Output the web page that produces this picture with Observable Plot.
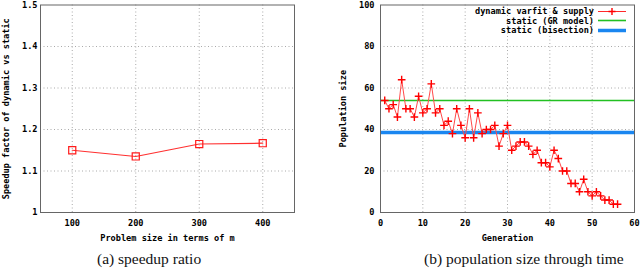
<!DOCTYPE html>
<html>
<head>
<meta charset="utf-8">
<script src="https://cdn.jsdelivr.net/npm/d3@7"></script>
<script src="https://cdn.jsdelivr.net/npm/@observablehq/plot@0.6"></script>
<style>
  html, body { margin: 0; padding: 0; background: #fff; }
  #wrap { position: relative; width: 640px; height: 268px; overflow: hidden; background: #fff; }
  .panel { position: absolute; top: 0; width: 320px; }
  .caption { position: absolute; top: 250px; font-family: "Liberation Serif", serif; font-size: 15.5px; white-space: nowrap; color: #111; }
  .legend { position: absolute; font-family: "DejaVu Sans Mono", monospace; font-weight: bold; font-size: 8.6px; color: #000; }
  .legend .row { position: absolute; right: 0; height: 9px; display: flex; align-items: center; white-space: nowrap; }
  .legend svg { margin-left: 4px; }
</style>
</head>
<body>
<div id="wrap">
  <div class="panel" id="left" style="left:0"></div>
  <div class="panel" id="right" style="left:320px"></div>
  <div class="caption" id="capA" style="left:97px">(a) speedup ratio</div>
  <div class="caption" id="capB" style="left:424px">(b) population size through time</div>
</div>
<script>
// ---- Panel (a) data ----
const problemSizes = [100, 200, 300, 400];
const speedup = [1.15, 1.135, 1.165, 1.167];
const speedupTicks = [1, 1.1, 1.2, 1.3, 1.4, 1.5];

// ---- Panel (b) data ----
const generations = [1,2,3,4,5,6,7,8,9,10,11,12,13,14,15,16,17,18,19,20,21,22,23,24,25,26,27,28,29,30,31,32,33,34,35,36,37,38,39,40,41,42,43,44,45,46,47,48,49,50,51,52,53,54,55,56];
const popDynamic = [54,50,52,46,64,50,50,46,56,48,50,62,48,50,42,44,38,50,42,36,50,36,48,38,40,40,42,32,38,42,30,32,34,34,32,28,30,24,24,22,30,26,20,20,14,14,10,16,10,8,10,8,6,6,4,4];
const popStaticGR = 54;
const popStaticBisection = 38.5;
const genTicks = [0, 10, 20, 30, 40, 50, 60];
const popTicks = [0, 20, 40, 60, 80, 100];
const legendLabels = ["dynamic varfit & supply", "static (GR model)", "static (bisection)"];
const legendColors = ["#ff2a2a", "#22c022", "#1a86f0"];

const font = {fontFamily: "DejaVu Sans Mono, monospace", fontSize: "8.6px", fontWeight: "bold", background: "#fff", color: "#000", overflow: "visible"};
const gridStyle = {stroke: "#aaa", strokeOpacity: 1, strokeDasharray: "1,2.5"};

const tableA = problemSizes.map((p, i) => ({size: p, speedup: speedup[i]}));
const tableB = generations.map((g, i) => ({gen: g, pop: popDynamic[i]}));

const plotA = Plot.plot({
  width: 320, height: 245,
  marginLeft: 40, marginRight: 26, marginTop: 4.5, marginBottom: 33,
  style: font,
  x: {domain: [50, 450]},
  y: {domain: [1, 1.5]},
  marks: [
    Plot.gridX(problemSizes, gridStyle),
    Plot.gridY(speedupTicks.slice(1, -1), gridStyle),
    Plot.frame({stroke: "#666"}),
    Plot.axisX(problemSizes, {tickSize: 0, tickPadding: 7, label: "Problem size in terms of m", labelAnchor: "center", labelArrow: "none", labelOffset: 28}),
    Plot.axisY(speedupTicks, {tickSize: 0, tickPadding: 3, tickFormat: d => d === 1 ? "1" : d.toFixed(1), label: "Speedup factor of dynamic vs static", labelAnchor: "center", labelArrow: "none", labelOffset: 38}),
    Plot.line(tableA, {x: "size", y: "speedup", stroke: "#ff3030", strokeWidth: 1.2}),
    Plot.dot(tableA, {x: "size", y: "speedup", symbol: "square", r: 4, stroke: "#ff1a1a", fill: "none", strokeWidth: 1.2})
  ]
});
document.getElementById("left").appendChild(plotA);

const plotB = Plot.plot({
  width: 320, height: 245,
  marginLeft: 60, marginRight: 6, marginTop: 4.5, marginBottom: 33,
  style: font,
  x: {domain: [0, 60]},
  y: {domain: [0, 100]},
  marks: [
    Plot.gridX(genTicks.slice(1, -1), gridStyle),
    Plot.gridY(popTicks.slice(1, -1), gridStyle),
    Plot.ruleY([popStaticGR], {stroke: legendColors[1], strokeWidth: 1.6}),
    Plot.ruleY([popStaticBisection], {stroke: legendColors[2], strokeWidth: 3.5}),
    Plot.line(tableB, {x: "gen", y: "pop", stroke: "#ff4a4a", strokeWidth: 1}),
    Plot.dot(tableB, {x: "gen", y: "pop", symbol: "plus", r: 2.6, stroke: "#ff0000", strokeWidth: 1.4}),
    Plot.frame({stroke: "#666"}),
    Plot.axisX(genTicks, {tickSize: 0, tickPadding: 7, label: "Generation", labelAnchor: "center", labelArrow: "none", labelOffset: 28}),
    Plot.axisY(popTicks, {tickSize: 0, tickPadding: 6, label: "Population size", labelAnchor: "center", labelArrow: "none", labelOffset: 41})
  ]
});
document.getElementById("right").appendChild(plotB);

// Legend overlay for panel (b)
const leg = document.createElement("div");
leg.className = "legend";
leg.style.left = "0px"; leg.style.top = "0px"; leg.style.width = "306px"; leg.style.height = "40px";
const rowTops = [6.5, 16, 25.5];
legendLabels.forEach((lab, i) => {
  const row = document.createElement("div");
  row.className = "row";
  row.style.top = rowTops[i] + "px";
  const span = document.createElement("span");
  span.textContent = lab;
  row.appendChild(span);
  const sw = d3.create("svg").attr("width", 28).attr("height", 9);
  sw.append("line").attr("x1", 0).attr("x2", 28).attr("y1", 4.5).attr("y2", 4.5)
    .attr("stroke", legendColors[i]).attr("stroke-width", i === 2 ? 3.5 : (i === 1 ? 1.6 : 1));
  if (i === 0) {
    sw.append("path").attr("d", "M14,1V8M10.5,4.5H17.5").attr("stroke", "#ff0000").attr("stroke-width", 1.4);
  }
  row.appendChild(sw.node());
  leg.appendChild(row);
});
document.getElementById("right").style.height = "245px";
document.getElementById("right").appendChild(leg);
</script>
</body>
</html>
